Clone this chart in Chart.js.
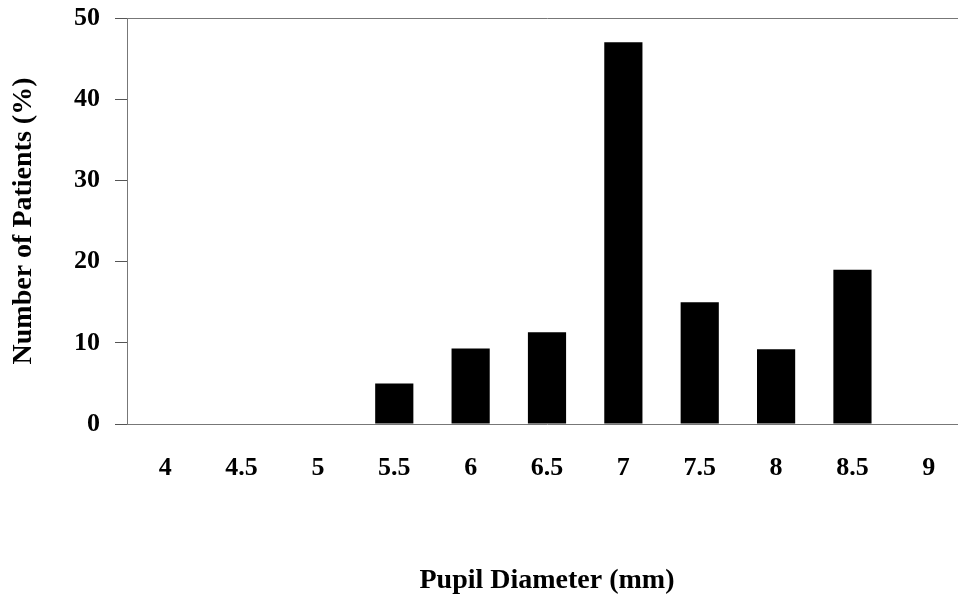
<!DOCTYPE html>
<html>
<head>
<meta charset="utf-8">
<script src="https://cdn.jsdelivr.net/npm/chart.js@4.4.0/dist/chart.umd.min.js"></script>
<style>
  html, body { margin: 0; padding: 0; background: #fff; overflow: hidden; }
  #wrap { width: 975px; height: 600px; }
</style>
</head>
<body>
<div id="wrap"><canvas id="chart"></canvas></div>
<script>
// pupil diameter (mm) categories and share of patients (%)
const diameters = ["4", "4.5", "5", "5.5", "6", "6.5", "7", "7.5", "8", "8.5", "9"];
const patients = [0, 0, 0, 5, 9.3, 11.3, 47, 15, 9.2, 19, 0];
const yTicks = [0, 10, 20, 30, 40, 50];

const serif = "'Liberation Serif', 'Times New Roman', serif";

new Chart(document.getElementById("chart").getContext("2d"), {
  type: "bar",
  data: {
    labels: diameters,
    datasets: [{
      data: patients,
      backgroundColor: "#000",
      barPercentage: 0.5,
      categoryPercentage: 1.0
    }]
  },
  options: {
    responsive: true,
    maintainAspectRatio: false,
    animation: false,
    devicePixelRatio: 1,
    layout: { padding: { top: 18, right: 8, bottom: 0, left: 0 } },
    plugins: { legend: { display: false }, tooltip: { enabled: false } },
    scales: {
      x: {
        grid: { display: false, drawTicks: false },
        border: { display: true, color: "#777", width: 1 },
        ticks: { color: "#000", padding: 29, font: { family: serif, size: 26, weight: "bold" } },
        title: { display: true, text: "Pupil Diameter (mm)", color: "#000",
                 padding: { bottom: 2 }, font: { family: serif, size: 28, weight: "bold" } },
        afterFit: s => { s.height = 176; }
      },
      y: {
        min: 0, max: 50,
        afterBuildTicks: s => { s.ticks = yTicks.map(v => ({ value: v })); },
        grid: {
          color: c => (c.tick && c.tick.value === 50 ? "#777" : "rgba(0,0,0,0)"),
          tickColor: "#555", tickLength: 12, drawTicks: true
        },
        border: { display: true, color: "#777", width: 1 },
        ticks: { color: "#000", padding: 15, font: { family: serif, size: 26, weight: "bold" } },
        title: { display: true, text: "Number of Patients (%)", color: "#000",
                 padding: { top: 7 }, font: { family: serif, size: 28, weight: "bold" } },
        afterFit: s => { s.width = 127; s.paddingTop = 0; s.paddingBottom = 0; }
      }
    }
  }
});
</script>
</body>
</html>
